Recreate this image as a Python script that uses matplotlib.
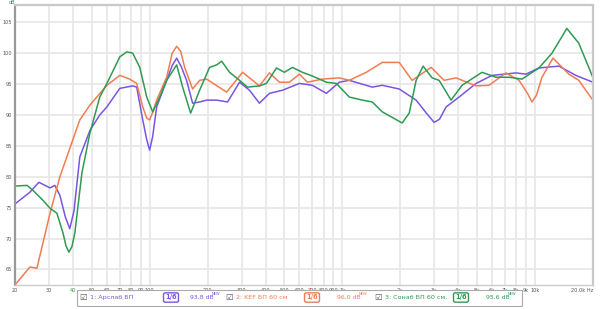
import matplotlib.pyplot as plt
from matplotlib.ticker import FixedLocator, NullFormatter, NullLocator

# Frequency response traces (Hz, dB)
arslab_f = [20, 23.9, 26.6, 30.4, 32.2, 34.2, 36.5, 38.5, 40.5, 43.4, 49.0, 55.1, 60, 70.0,
            81.7, 85.7, 92.1, 96.6, 100, 103.7, 108.8, 122.6, 131, 138.2, 146, 155.6, 167.2,
            181.8, 197.7, 222.8, 254, 293, 330, 371.6, 419, 489.4, 599.6, 699.6, 827.6, 966,
            1088, 1433, 1614, 1977, 2420, 2750, 3000, 3200, 3463, 4045, 4953, 5996, 7982,
            8995, 10500, 13340, 16330, 20000]
arslab_db = [75.6, 77.5, 79.1, 78.2, 78.6, 77.0, 73.5, 71.6, 74.5, 83.2, 87.5, 90.0, 91.3, 94.3,
             94.7, 94.5, 89.2, 86.0, 84.3, 86.5, 91.3, 95.6, 98.0, 99.2, 97.8, 95.6, 91.9,
             92.1, 92.4, 92.4, 92.1, 95.3, 94.0, 91.9, 93.5, 94.0, 95.1, 94.8, 93.5, 95.3,
             95.6, 94.5, 94.8, 94.2, 92.4, 90.2, 88.8, 89.3, 91.3, 92.9, 95.1, 96.4, 96.8,
             96.6, 97.6, 97.9, 96.4, 95.3]

kef_f = [20, 23.9, 26.0, 30.4, 34.2, 43.4, 49.0, 60, 70.0, 78.8, 85.7, 92.1, 96.6, 100,
         104, 108.8, 122.6, 131, 138.2, 145, 152, 167.2, 181.8, 197.7, 250.9, 303.9, 371.6,
         419, 472.3, 532, 599.6, 659.5, 788.6, 966, 1088, 1333, 1614, 1977, 2307, 2896,
         3381, 3900, 4953, 5783, 7082, 8280, 9200, 9660, 10200, 10890, 12420, 15020,
         16920, 20000]
kef_db = [62.5, 65.4, 65.2, 74.1, 80.0, 89.2, 91.6, 94.8, 96.4, 95.8, 95.1, 91.3, 89.5, 89.2,
          90.5, 92.4, 96.1, 100.0, 101.1, 100.3, 97.7, 94.2, 95.6, 95.8, 93.7, 96.9, 94.7,
          96.8, 95.3, 95.3, 96.6, 95.3, 95.8, 96.0, 95.6, 96.9, 98.5, 98.5, 95.6, 97.7,
          95.6, 96.0, 94.7, 94.8, 96.8, 95.6, 93.4, 92.1, 93.2, 96.1, 99.2, 96.6,
          95.6, 92.4]

sonab_f = [20, 23.1, 24.8, 27.9, 30.4, 33.0, 35.5, 36.8, 38.1, 39.5, 40.9, 44.5, 49.0, 55.1,
           60, 65.9, 70.0, 76.1, 81.7, 88.9, 96.6, 103.7, 112.8, 122.6, 138.2, 148.4, 163.3,
           181.8, 204.8, 222.8, 236.5, 260, 293, 322.4, 371.6, 404, 455.7, 501, 551, 621,
           699.6, 827.6, 931.8, 1088, 1271, 1433, 1614, 1819, 2047, 2228, 2420, 2630, 2930,
           3185, 3674, 4190, 5322, 6286, 7345, 8579, 10500, 12280, 14660, 16920, 20000]
sonab_db = [78.5, 78.6, 77.8, 76.2, 74.9, 74.1, 70.9, 68.8, 67.8, 68.7, 70.9, 80.6, 87.1, 92.9,
            95.1, 97.7, 99.4, 100.2, 100.0, 97.7, 92.9, 90.5, 92.9, 95.6, 98.1, 94.5, 90.3,
            94.0, 97.7, 98.1, 98.7, 96.9, 95.6, 94.5, 94.7, 95.1, 97.6, 96.9, 97.7, 96.9,
            96.3, 95.3, 95.1, 92.9, 92.4, 92.1, 90.5, 89.6, 88.7, 90.3, 95.6, 97.9, 96.0,
            95.6, 92.4, 94.8, 96.9, 96.1, 96.1, 95.8, 97.6, 100.0, 104.0, 101.6, 96.1]

x_ticks = [20, 30, 40, 50, 60, 70, 80, 90, 100, 200, 300, 400, 500, 600, 700, 800, 900,
           1000, 2000, 3000, 4000, 5000, 6000, 7000, 8000, 9000, 10000, 20000]
x_labels = ['20', '30', '40', '50', '60', '70', '80', '90', '100', '200', '300', '400',
            '500', '600', '700', '800', '900', '1k', '2k', '3k', '4k', '5k', '6k', '7k',
            '8k', '9k', '10k', '20.0k Hz']
y_ticks = [65, 70, 75, 80, 85, 90, 95, 100, 105]

names = ['1: Арслаб БП', '2: KEF БП 60 см', '3: Сонаб БП 60 см.']
levels = ['93,8 dB', '96,0 dB', '95,6 dB']
colors = ['#7a55e3', '#f07d52', '#2f9a52']

fig = plt.figure(figsize=(6, 3.09), dpi=100)
ax = fig.add_axes([0.025, 0.078, 0.963, 0.906])

ax.set_xscale('log')
ax.set_xlim(20, 20000)
ax.set_ylim(62.5, 107.8)

for f, db, c in zip([arslab_f, kef_f, sonab_f], [arslab_db, kef_db, sonab_db], colors):
    ax.plot(f, db, color=c, lw=1.1, solid_joinstyle='round', solid_capstyle='round')

ax.xaxis.set_major_locator(FixedLocator(x_ticks))
ax.xaxis.set_minor_locator(NullLocator())
ax.xaxis.set_minor_formatter(NullFormatter())
ax.set_xticks(x_ticks)
ax.set_xticklabels(x_labels)
ax.set_yticks(y_ticks)
ax.set_yticklabels([str(v) for v in y_ticks])
ax.grid(True, color='#e8e8e8', lw=1.3)
ax.set_axisbelow(True)
ax.tick_params(length=0, labelsize=3.6, colors='#555555', pad=2)
ax.get_xticklabels()[2].set_color('#2f9a52')
ax.get_xticklabels()[-1].set_horizontalalignment('right')

for side in ['top', 'right']:
    ax.spines[side].set_color('#c8c8c8')
    ax.spines[side].set_linewidth(1.6)
ax.spines['left'].set_color('#999999')
ax.spines['left'].set_linewidth(1.6)
ax.spines['bottom'].set_color('#cccccc')
ax.spines['bottom'].set_linewidth(1.0)

fig.text(12 / 600, 1 - 3 / 309, 'dB', fontsize=3.6, color='#4a8a5a', ha='center', va='center')

# legend bar under the plot
leg = plt.Rectangle((77 / 600, 1 - 306 / 309), 445 / 600, 16 / 309, transform=fig.transFigure,
                    facecolor='white', edgecolor='#aaaaaa', lw=0.8)
fig.add_artist(leg)
yl = 1 - 297.5 / 309
box_x = [83, 229, 378]
name_x = [90, 236, 385]
frac_x = [171, 312, 461]
lvl_x = [190, 337, 486]
for i in range(3):
    fig.text(box_x[i] / 600, yl, '☑', fontsize=6, color='#555555', ha='center', va='center')
    fig.text(name_x[i] / 600, yl, names[i], fontsize=4.6, color=colors[i], ha='left', va='center')
    fig.text(frac_x[i] / 600, yl, '1/6', fontsize=4.8, color=colors[i], ha='center', va='center',
             fontweight='bold',
             bbox=dict(boxstyle='round,pad=0.25', facecolor='white', edgecolor=colors[i], lw=1.0))
    fig.text(lvl_x[i] / 600, yl, levels[i], fontsize=4.4, color=colors[i], ha='left', va='center')
    fig.text((lvl_x[i] + 22) / 600, yl + 0.01, 'NEW', fontsize=2.6, color=colors[i],
             ha='left', va='center')

fig.savefig('out.png', dpi=100)
